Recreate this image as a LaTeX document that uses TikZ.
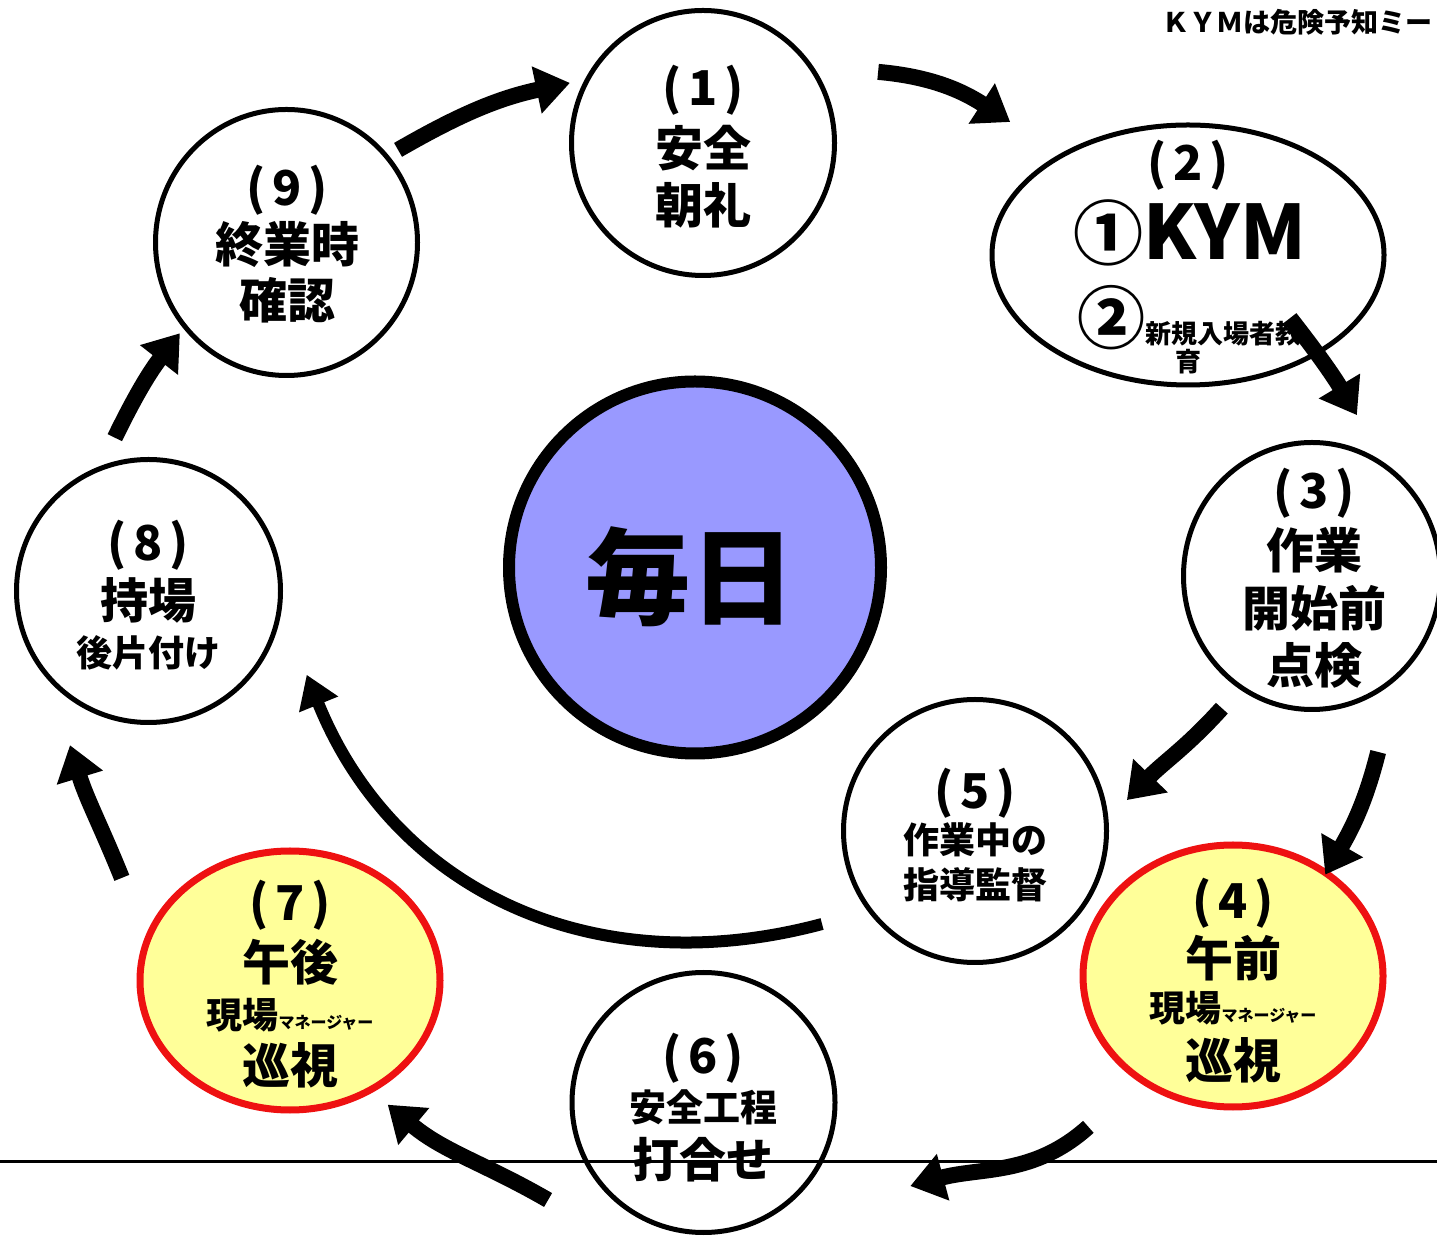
\documentclass[tikz,border=0pt]{standalone}
\usepackage{fontspec}
\newfontfamily\jp{Noto Sans CJK JP}
\usetikzlibrary{arrows.meta,calc,shapes.geometric}
\definecolor{centerblue}{HTML}{9999FF}
\definecolor{paleyellow}{HTML}{FFFF99}
\definecolor{ringred}{HTML}{EE1111}
\newcommand\fs[1]{\fontsize{#1}{#1}\selectfont}
\tikzset{
 stepnode/.style={ellipse, draw=black, line width=5pt, fill=white, inner sep=0pt},
 hinode/.style={ellipse, draw=ringred, line width=7pt, fill=paleyellow, inner sep=0pt},
 lbl/.style={font=\jp\bfseries, inner sep=0pt, text=black},
 flow/.style={line width=16pt, -{Triangle[width=46pt,length=34pt]}},
 bigflow/.style={line width=12pt, -{Triangle[width=40pt,length=32pt]}},
}
\begin{document}
\begin{tikzpicture}[x=1pt,y=1pt]
\useasboundingbox[fill=white] (0,0) rectangle (1437,1237);
% nodes
\node[stepnode, minimum width=263pt, minimum height=265pt] (n1) at (703,1094) {};
\node[stepnode, minimum width=392pt, minimum height=260pt] (n2) at (1188,982) {};
\node[stepnode, minimum width=257pt, minimum height=267pt] (n3) at (1312,661) {};
\node[hinode, minimum width=300pt, minimum height=262pt] (n4) at (1233,261) {};
\node[stepnode, minimum width=263pt, minimum height=263pt] (n5) at (975,406) {};
\node[stepnode, minimum width=263pt, minimum height=260pt] (n6) at (703.5,134.5) {};
\node[hinode, minimum width=300pt, minimum height=259pt] (n7) at (290,256.5) {};
\node[stepnode, minimum width=264pt, minimum height=263pt] (n8) at (148.5,646) {};
\node[stepnode, minimum width=262pt, minimum height=266pt] (n9) at (286.5,994.5) {};
\node[circle, draw=black, line width=12pt, fill=centerblue, minimum size=372pt, inner sep=0pt] (n0) at (695,669.5) {};
% texts
\node[lbl] (n0a) at (690,660) {\fs{105}毎日};
\node[lbl, anchor=east] (note) at (1433,1215) {\fs{27}ＫＹＭは危険予知ミー};

\node[lbl] (n1a) at (703,1147) {\fs{48}(\kern7pt 1\kern7pt)};
\node[lbl] (n1b) at (703,1089) {\fs{48}安全};
\node[lbl] (n1c) at (703,1032) {\fs{48}朝礼};

\node[lbl] (n2a) at (1188,1072) {\fs{48}(\kern7pt 2\kern7pt)};
\node[lbl] (n2b) at (1190,1004) {\fs{70}①\fs{75}KYM};
\node[lbl] (n2c) at (1189,919) {\fs{68}②\fs{26}新規入場者教};
\node[lbl] (n2d) at (1188,875) {\fs{26}育};

\node[lbl] (n3a) at (1314,744) {\fs{48}(\kern7pt 3\kern7pt)};
\node[lbl] (n3b) at (1314,687) {\fs{48}作業};
\node[lbl] (n3c) at (1314,629) {\fs{48}開始前};
\node[lbl] (n3d) at (1314,572) {\fs{48}点検};

\node[lbl] (n4a) at (1233,334) {\fs{48}(\kern7pt 4\kern7pt)};
\node[lbl] (n4b) at (1233,279) {\fs{48}午前};
\node[lbl] (n4c) at (1233,229) {\fs{36}現場\fs{16}マネージャー};
\node[lbl] (n4d) at (1233,177) {\fs{48}巡視};

\node[lbl] (n5a) at (975,444) {\fs{48}(\kern7pt 5\kern7pt)};
\node[lbl] (n5b) at (975,397) {\fs{36}作業中の};
\node[lbl] (n5c) at (975,352) {\fs{36}指導監督};

\node[lbl] (n6a) at (703,179) {\fs{48}(\kern7pt 6\kern7pt)};
\node[lbl] (n6b) at (703,130) {\fs{37}安全工程};
\node[lbl] (n6c) at (703,77) {\fs{47}打合せ};

\node[lbl] (n7a) at (290,332) {\fs{48}(\kern7pt 7\kern7pt)};
\node[lbl] (n7b) at (290,275) {\fs{48}午後};
\node[lbl] (n7c) at (290,222) {\fs{36}現場\fs{16}マネージャー};
\node[lbl] (n7d) at (290,172) {\fs{48}巡視};

\node[lbl] (n8a) at (148,692) {\fs{48}(\kern7pt 8\kern7pt)};
\node[lbl] (n8b) at (148,637) {\fs{48}持場};
\node[lbl] (n8c) at (148,584) {\fs{36}後片付け};

\node[lbl] (n9a) at (287,1047) {\fs{48}(\kern7pt 9\kern7pt)};
\node[lbl] (n9b) at (287,992) {\fs{48}終業時};
\node[lbl] (n9c) at (287,937) {\fs{48}確認};

% connectors
\draw[flow] ($(n9)+(39.7:145)$) to[out=30,in=192] ($(n1)+(155.7:146)$);
\draw[flow] ($(n1)+(22.1:189)$) to[out=-5,in=147] ($(n2)+(143.2:222)$);
\draw[flow] ($(n2)+(-31.7:120)$) to[out=-52,in=121] ($(n3)+(74.4:167)$);
\draw[flow] ($(n3)+(235.7:160)$) to[out=228,in=46] ($(n5)+(11.5:155)$);
\draw[flow] ($(n3)+(-69.4:188)$) to[out=256,in=60] ($(n4)+(47.7:137)$);
\draw[bigflow] ($(n5)+(211.3:179)$) to[out=195,in=-68,looseness=1.05] ($(n8)+(-27.9:179)$);
\draw[flow] ($(n4)+(226.2:209)$) to[out=222,in=15] ($(n6)+(-22:223)$);
\draw[flow] ($(n6)+(212.1:183.5)$) to[out=150,in=-40] ($(n7)+(-51.8:158)$);
\draw[flow] ($(n7)+(148.6:197)$) to[out=112,in=-73] ($(n8)+(243:173)$);
\draw[flow] ($(n8)+(102.4:157)$) to[out=64,in=-128] ($(n9)+(220.4:140)$);

\draw[line width=3pt] (0,76) -- (1437,76);
\end{tikzpicture}
\end{document}
